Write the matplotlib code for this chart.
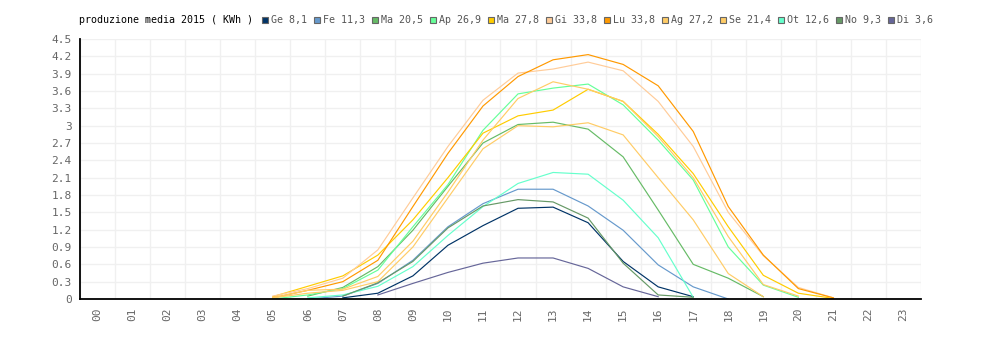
import numpy as np
import matplotlib
matplotlib.use("Agg")
import matplotlib.pyplot as plt
from matplotlib.patches import Rectangle

n = np.nan
hours = ["%02d" % h for h in range(24)]

title = "produzione media 2015 ( KWh )"
months = ["Ge", "Fe", "Ma", "Ap", "Ma", "Gi", "Lu", "Ag", "Se", "Ot", "No", "Di"]
totals = ["8,1", "11,3", "20,5", "26,9", "27,8", "33,8", "33,8", "27,2", "21,4", "12,6", "9,3", "3,6"]
colors = ["#003366", "#6699cc", "#66bb66", "#66ff99", "#ffcc00", "#ffcc99",
          "#ff9900", "#ffcc66", "#ffcc66", "#66ffcc", "#669966", "#666699"]

# hourly averages 00..23
ge = [n]*7 + [0.02, 0.10, 0.40, 0.93, 1.27, 1.57, 1.59, 1.32, 0.65, 0.21, 0.04] + [n]*6
fe = [n]*6 + [0.0, 0.05, 0.27, 0.67, 1.25, 1.65, 1.90, 1.90, 1.61, 1.19, 0.59, 0.21, 0.0] + [n]*5
mar = [n]*6 + [0.05, 0.20, 0.56, 1.19, 1.95, 2.70, 3.02, 3.06, 2.94, 2.46, 1.54, 0.60, 0.36, 0.04] + [n]*4
apr = [n]*5 + [0.0, 0.07, 0.18, 0.50, 1.25, 1.98, 2.92, 3.55, 3.65, 3.72, 3.36, 2.75, 2.06, 0.90, 0.24, 0.03] + [n]*3
mag = [n]*5 + [0.04, 0.22, 0.40, 0.76, 1.37, 2.10, 2.87, 3.17, 3.27, 3.63, 3.42, 2.85, 2.17, 1.25, 0.41, 0.10, 0.01] + [n]*2
giu = [n]*5 + [0.05, 0.18, 0.36, 0.85, 1.75, 2.64, 3.44, 3.91, 3.98, 4.10, 3.95, 3.42, 2.64, 1.50, 0.75, 0.20, 0.02] + [n]*2
lug = [n]*5 + [0.02, 0.15, 0.30, 0.67, 1.60, 2.52, 3.34, 3.85, 4.14, 4.23, 4.06, 3.69, 2.90, 1.60, 0.76, 0.18, 0.02] + [n]*2
ago = [n]*5 + [0.02, 0.15, 0.17, 0.39, 1.00, 1.85, 2.75, 3.47, 3.76, 3.63, 3.42, 2.81, 2.10, 1.08, 0.25, 0.05] + [n]*3
set_ = [n]*5 + [0.02, 0.10, 0.15, 0.30, 0.90, 1.75, 2.60, 3.00, 2.98, 3.05, 2.84, 2.10, 1.37, 0.44, 0.04] + [n]*4
ott = [n]*6 + [0.02, 0.07, 0.22, 0.56, 1.10, 1.60, 2.00, 2.19, 2.16, 1.71, 1.06, 0.03] + [n]*6
nov = [n]*7 + [0.05, 0.28, 0.65, 1.23, 1.61, 1.72, 1.68, 1.40, 0.62, 0.07, 0.03] + [n]*6
dic = [n]*8 + [0.07, 0.27, 0.46, 0.62, 0.71, 0.71, 0.53, 0.21, 0.04] + [n]*7

series = [ge, fe, mar, apr, mag, giu, lug, ago, set_, ott, nov, dic]

W, H = 1000, 340
fig = plt.figure(figsize=(10, 3.4), dpi=100)
ax = fig.add_axes([80/W, 1 - 299/H, (921 - 80)/W, (299 - 39)/H])

x = np.arange(24)
for vals, c in zip(series, colors):
    ax.plot(x, vals, color=c, lw=0.85, solid_joinstyle="miter", zorder=3)

ax.set_xlim(-0.5, 23.5)
ax.set_ylim(0, 4.5)
yt = np.round(np.arange(0, 4.51, 0.3), 1)
ax.set_yticks(yt)
ax.set_yticklabels(["%g" % v for v in yt])
ax.set_xticks(x)
ax.set_xticklabels(hours, rotation=90)
ax.set_xticks(np.arange(-0.5, 24, 1), minor=True)

ax.grid(True, axis="y", color="#f0f0f0", lw=1.0, zorder=0)
ax.grid(True, axis="x", which="minor", color="#f0f0f0", lw=1.0, zorder=0)
ax.tick_params(which="both", length=0)
ax.tick_params(axis="y", pad=6, labelsize=8, labelcolor="#666666")
ax.tick_params(axis="x", pad=6, labelsize=8, labelcolor="#666666")
for lab in ax.get_xticklabels() + ax.get_yticklabels():
    lab.set_family("DejaVu Sans Mono")

for s in ["top", "right"]:
    ax.spines[s].set_visible(False)
for s in ["left", "bottom"]:
    ax.spines[s].set_color("black")
    ax.spines[s].set_linewidth(1.3)
    ax.spines[s].set_zorder(5)

# legend line at the top
ty = 1 - 20/H
fig.text(79/W, ty, title, fontsize=7.2, family="DejaVu Sans Mono", color="black",
         va="center", ha="left")
px = 261.7
for m, t, c in zip(months, totals, colors):
    lab = "%s %s" % (m, t)
    fig.patches.append(Rectangle((px/W, (H - 23)/H), 6/W, 6/H, transform=fig.transFigure,
                                 facecolor=c, edgecolor="#666666", lw=0.8))
    fig.text((px + 9)/W, ty, lab, fontsize=7.2, family="DejaVu Sans Mono",
             color="#555555", va="center", ha="left")
    px += 9 + 6*len(lab) + 7

fig.savefig("out.png", dpi=100, facecolor="white")
